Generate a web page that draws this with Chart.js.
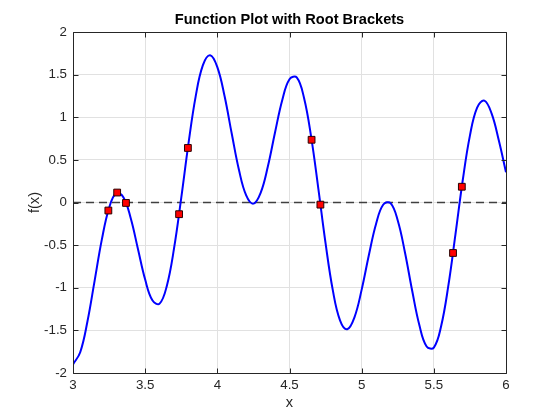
<!DOCTYPE html>
<html>
<head>
<meta charset="utf-8">
<script src="https://cdn.jsdelivr.net/npm/chart.js@4.4.1/dist/chart.umd.min.js"></script>
<style>
  html, body { margin: 0; padding: 0; background: #fff; }
  #wrap { width: 560px; height: 420px; }
</style>
</head>
<body>
<div id="wrap"><canvas id="chart" width="560" height="420"></canvas></div>
<script>
// curve samples (every 0.05 in x)
const curveX = [
  3.00, 3.05, 3.10, 3.15, 3.20, 3.25, 3.30, 3.35, 3.40, 3.45,
  3.50, 3.55, 3.60, 3.65, 3.70, 3.75, 3.80, 3.85, 3.90, 3.95,
  4.00, 4.05, 4.10, 4.15, 4.20, 4.25, 4.30, 4.35, 4.40, 4.45,
  4.50, 4.55, 4.60, 4.65, 4.70, 4.75, 4.80, 4.85, 4.90, 4.95,
  5.00, 5.05, 5.10, 5.15, 5.20, 5.25, 5.30, 5.35, 5.40, 5.45,
  5.50, 5.55, 5.60, 5.65, 5.70, 5.75, 5.80, 5.85, 5.90, 5.95, 6.00
]
const curveY = [
  -1.899, -1.756, -1.396, -0.916, -0.433, -0.064, 0.111, 0.060, -0.185, -0.545,
  -0.904, -1.147, -1.186, -0.978, -0.539, 0.054, 0.690, 1.245, 1.611, 1.728,
  1.589, 1.249, 0.806, 0.381, 0.083, -0.013, 0.113, 0.422, 0.824, 1.203,
  1.446, 1.467, 1.232, 0.770, 0.161, -0.480, -1.028, -1.382, -1.487, -1.347,
  -1.022, -0.616, -0.248, -0.023, -0.008, -0.211, -0.586, -1.035, -1.440, -1.689,
  -1.702, -1.455, -0.982, -0.371, 0.258, 0.785, 1.114, 1.196, 1.046, 0.730, 0.356
]

// bracket end points (red squares)
const bracketX = [3.245, 3.306, 3.367, 3.735, 3.796, 4.653, 4.714, 5.633, 5.694]
const bracketY = [-0.094, 0.117, -0.005, -0.137, 0.640, 0.736, -0.025, -0.592, 0.185]

// zero reference line
const zeroX = [3, 6]
const zeroY = [0, 0]

const xTicks = [3, 3.5, 4, 4.5, 5, 5.5, 6]
const yTicks = [-2, -1.5, -1, -0.5, 0, 0.5, 1, 1.5, 2]

const FONT = "'Liberation Sans', Arial, Helvetica, sans-serif"
const AXIS_COLOR = "#262626"

const toPoints = (xs, ys) => xs.map((x, i) => ({ x, y: ys[i] }))

// draws the box around the axes and the inward tick marks (matlab style)
const axesBox = {
  id: "axesBox",
  afterDatasetsDraw(chart) {
    const { ctx, chartArea: a, scales } = chart
    const px = v => Math.round(v) + 0.5
    const L = px(a.left), R = px(a.right), T = px(a.top), B = px(a.bottom)
    const len = 5
    ctx.save()
    ctx.strokeStyle = AXIS_COLOR
    ctx.lineWidth = 1
    ctx.beginPath()
    ctx.rect(L, T, R - L, B - T)
    xTicks.forEach(v => {
      const x = px(scales.x.getPixelForValue(v))
      ctx.moveTo(x, B); ctx.lineTo(x, B - len)
      ctx.moveTo(x, T); ctx.lineTo(x, T + len)
    })
    yTicks.forEach(v => {
      const y = px(scales.y.getPixelForValue(v))
      ctx.moveTo(L, y); ctx.lineTo(L + len, y)
      ctx.moveTo(R, y); ctx.lineTo(R - len, y)
    })
    ctx.stroke()
    ctx.restore()
  }
}

const ctx = document.getElementById("chart").getContext("2d")

new Chart(ctx, {
  type: "line",
  data: {
    datasets: [
      {
        label: "Brackets",
        type: "scatter",
        data: toPoints(bracketX, bracketY),
        pointStyle: "rect",
        pointRadius: 4.8,
        pointBackgroundColor: "#ff0000",
        pointBorderColor: "#2a0000",
        pointBorderWidth: 1,
        showLine: false,
        order: 0
      },
      {
        label: "f(x)",
        data: toPoints(curveX, curveY),
        borderColor: "#0000ff",
        borderWidth: 2,
        pointRadius: 0,
        tension: 0.4,
        fill: false,
        order: 1
      },
      {
        label: "zero",
        data: toPoints(zeroX, zeroY),
        borderColor: "#404040",
        borderWidth: 1.3,
        borderDash: [8, 5],
        pointRadius: 0,
        fill: false,
        order: 2
      }
    ]
  },
  options: {
    responsive: false,
    animation: false,
    devicePixelRatio: 1,
    layout: { padding: { left: 0, right: 54, top: 0, bottom: 0 } },
    plugins: {
      legend: { display: false },
      tooltip: { enabled: false },
      title: {
        display: true,
        fullSize: false,
        text: "Function Plot with Root Brackets",
        color: "#000000",
        font: { family: FONT, size: 14.6, weight: "bold" },
        padding: { top: 11.7, bottom: 2.8 }
      }
    },
    scales: {
      x: {
        type: "linear",
        min: 3,
        max: 6,
        afterBuildTicks: s => { s.ticks = xTicks.map(v => ({ value: v })) },
        afterFit: s => { s.height = 47 },
        grid: { color: "#e1e1e1", drawTicks: false },
        border: { display: false },
        ticks: {
          color: AXIS_COLOR,
          padding: 4,
          maxRotation: 0,
          font: { family: FONT, size: 13.3 },
          callback: v => String(v)
        },
        title: {
          display: true,
          text: "x",
          color: AXIS_COLOR,
          font: { family: FONT, size: 14.6 },
          padding: { top: 0, bottom: 8.5 }
        }
      },
      y: {
        type: "linear",
        min: -2,
        max: 2,
        afterBuildTicks: s => { s.ticks = yTicks.map(v => ({ value: v })) },
        afterFit: s => { s.width = 73 },
        grid: { color: "#e1e1e1", drawTicks: false },
        border: { display: false },
        ticks: {
          color: AXIS_COLOR,
          padding: 6,
          font: { family: FONT, size: 13.3 },
          callback: v => String(v)
        },
        title: {
          display: true,
          text: "f(x)",
          color: AXIS_COLOR,
          font: { family: FONT, size: 14.6 },
          padding: { top: 26, bottom: 0 }
        }
      }
    }
  },
  plugins: [axesBox]
})
</script>
</body>
</html>
